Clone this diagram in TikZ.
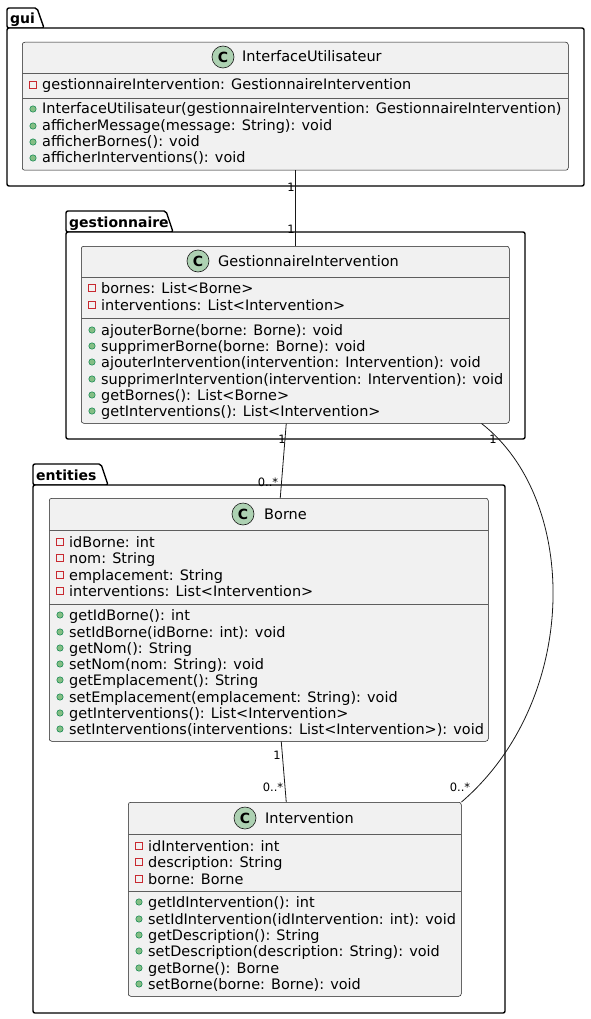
\documentclass[tikz,border=0pt]{standalone}
\usepackage{fontspec}
\setmainfont{DejaVu Sans}
\usetikzlibrary{calc}

\definecolor{classfill}{HTML}{F1F1F1}
\definecolor{classline}{HTML}{181818}
\definecolor{iconfill}{HTML}{ADD1B2}
\definecolor{privred}{HTML}{C82930}
\definecolor{pubfill}{HTML}{84BE84}
\definecolor{publine}{HTML}{038048}

\tikzset{
  classbox/.style={draw=classline, fill=classfill, line width=0.5pt,
    rounded corners=2.5pt, anchor=north west, inner sep=0pt},
  divider/.style={draw=classline!70, line width=0.5pt},
  pkgline/.style={draw=black, line width=1.4pt, fill=white, rounded corners=2pt},
  pkgname/.style={font=\fontsize{14}{16}\selectfont\bfseries, anchor=base west, inner sep=0pt},
  classicon/.style={circle, draw=classline, line width=0.6pt, fill=iconfill,
    minimum size=22pt, inner sep=0pt, font=\fontsize{14}{16}\selectfont\bfseries},
  classname/.style={font=\fontsize{14.5}{16}\selectfont, anchor=base west, inner sep=0pt},
  memtext/.style={font=\fontsize{14.45}{16}\selectfont, anchor=base west, inner sep=0pt},
  privmark/.style={draw=privred, line width=0.8pt},
  pubmark/.style={draw=publine, line width=0.5pt, fill=pubfill},
  assoc/.style={draw=classline, line width=0.8pt},
  mult/.style={font=\fontsize{11.5}{13}\selectfont, inner sep=0pt, anchor=center},
}

% private member: class left edge, row centre, text
\newcommand\privrow[3]{%
  \draw[privmark] ({#1+7.5},{#2-3.5}) rectangle ++(7,7);
  \node[memtext] at ({#1+20},{#2+5}) {#3};}
% public member: class left edge, row centre, text
\newcommand\pubrow[3]{%
  \fill[pubmark] ({#1+11},{#2}) circle (3.2);
  \node[memtext] at ({#1+20},{#2+5}) {#3};}

\begin{document}
\begin{tikzpicture}[x=1pt, y=-1pt]
\useasboundingbox (0,0) rectangle (590,1019);

% ---------------- packages ----------------
\draw[pkgline] (7,28) -- (7,8) -- (37,8) -- (44,28) -- cycle;
\draw[pkgline] (7,28) rectangle (584,186);
\node[pkgname] (pgui) at (10,24) {gui};

\draw[pkgline] (66,232) -- (66,211) -- (166,211) -- (173,232) -- cycle;
\draw[pkgline] (66,232) rectangle (525,439);
\node[pkgname] (pgest) at (69,227) {gestionnaire};

\draw[pkgline] (33,485) -- (33,464) -- (101,464) -- (108,485) -- cycle;
\draw[pkgline] (33,485) rectangle (505,1013);
\node[pkgname] (pent) at (36,480) {entities};

% ---------------- InterfaceUtilisateur ----------------
\node[classbox, minimum width=546pt, minimum height=128pt] (iu) at (22,42) {};
\draw[divider] (22,73) -- (568,73);
\draw[divider] (22,98) -- (568,98);
\node[classicon] (iuicon) at (223,57) {C};
\node[classname] (iuname) at (242,62) {InterfaceUtilisateur};
\privrow{22}{85}{gestionnaireIntervention: GestionnaireIntervention}
\pubrow{22}{109}{InterfaceUtilisateur(gestionnaireIntervention: GestionnaireIntervention)}
\pubrow{22}{126}{afficherMessage(message: String): void}
\pubrow{22}{142}{afficherBornes(): void}
\pubrow{22}{158}{afficherInterventions(): void}

% ---------------- GestionnaireIntervention ----------------
\node[classbox, minimum width=428pt, minimum height=177pt] (gi) at (81,246) {};
\draw[divider] (81,277) -- (509,277);
\draw[divider] (81,318) -- (509,318);
\node[classicon] (giicon) at (198,261) {C};
\node[classname] (giname) at (218,266) {GestionnaireIntervention};
\privrow{81}{288}{bornes: List<Borne>}
\privrow{81}{305}{interventions: List<Intervention>}
\pubrow{81}{330}{ajouterBorne(borne: Borne): void}
\pubrow{81}{346}{supprimerBorne(borne: Borne): void}
\pubrow{81}{362}{ajouterIntervention(intervention: Intervention): void}
\pubrow{81}{379}{supprimerIntervention(intervention: Intervention): void}
\pubrow{81}{395}{getBornes(): List<Borne>}
\pubrow{81}{411}{getInterventions(): List<Intervention>}

% ---------------- Borne ----------------
\node[classbox, minimum width=439pt, minimum height=243pt] (borne) at (49,498) {};
\draw[divider] (49,530) -- (488,530);
\draw[divider] (49,604) -- (488,604);
\node[classicon] (borneicon) at (243,514) {C};
\node[classname] (bornename) at (264,519) {Borne};
\privrow{49}{542}{idBorne: int}
\privrow{49}{558}{nom: String}
\privrow{49}{575}{emplacement: String}
\privrow{49}{591}{interventions: List<Intervention>}
\pubrow{49}{615}{getIdBorne(): int}
\pubrow{49}{632}{setIdBorne(idBorne: int): void}
\pubrow{49}{648}{getNom(): String}
\pubrow{49}{664}{setNom(nom: String): void}
\pubrow{49}{680}{getEmplacement(): String}
\pubrow{49}{697}{setEmplacement(emplacement: String): void}
\pubrow{49}{713}{getInterventions(): List<Intervention>}
\pubrow{49}{729}{setInterventions(interventions: List<Intervention>): void}

% ---------------- Intervention ----------------
\node[classbox, minimum width=333pt, minimum height=194pt] (inter) at (128,802) {};
\draw[divider] (128,834) -- (461,834);
\draw[divider] (128,891) -- (461,891);
\node[classicon] (intericon) at (245,818) {C};
\node[classname] (intername) at (265,823) {Intervention};
\privrow{128}{846}{idIntervention: int}
\privrow{128}{862}{description: String}
\privrow{128}{879}{borne: Borne}
\pubrow{128}{902}{getIdIntervention(): int}
\pubrow{128}{919}{setIdIntervention(idIntervention: int): void}
\pubrow{128}{935}{getDescription(): String}
\pubrow{128}{951}{setDescription(description: String): void}
\pubrow{128}{968}{getBorne(): Borne}
\pubrow{128}{984}{setBorne(borne: Borne): void}

% ---------------- associations ----------------
\draw[assoc] (iu.south) -- (gi.north);
\draw[assoc] ($(gi.south)+(-9,0)$) -- ($(borne.north)+(11.5,0)$);
\draw[assoc] ($(borne.south)+(12.5,0)$) -- ($(inter.north)+(-8.5,0)$);
\draw[assoc] ($(gi.south east)+(-28,0)$) .. controls (580,500) and (580,700) .. (inter.north east);

% multiplicities
\node[mult] (m1) at (291,187) {1};
\node[mult] (m2) at (291,229) {1};
\node[mult] (m3) at (282,439) {1};
\node[mult] (m4) at (268,482) {0..*};
\node[mult] (m5) at (493,439) {1};
\node[mult] (m6) at (277,755) {1};
\node[mult] (m7) at (273,787) {0..*};
\node[mult] (m8) at (460,787) {0..*};
\end{tikzpicture}
\end{document}
